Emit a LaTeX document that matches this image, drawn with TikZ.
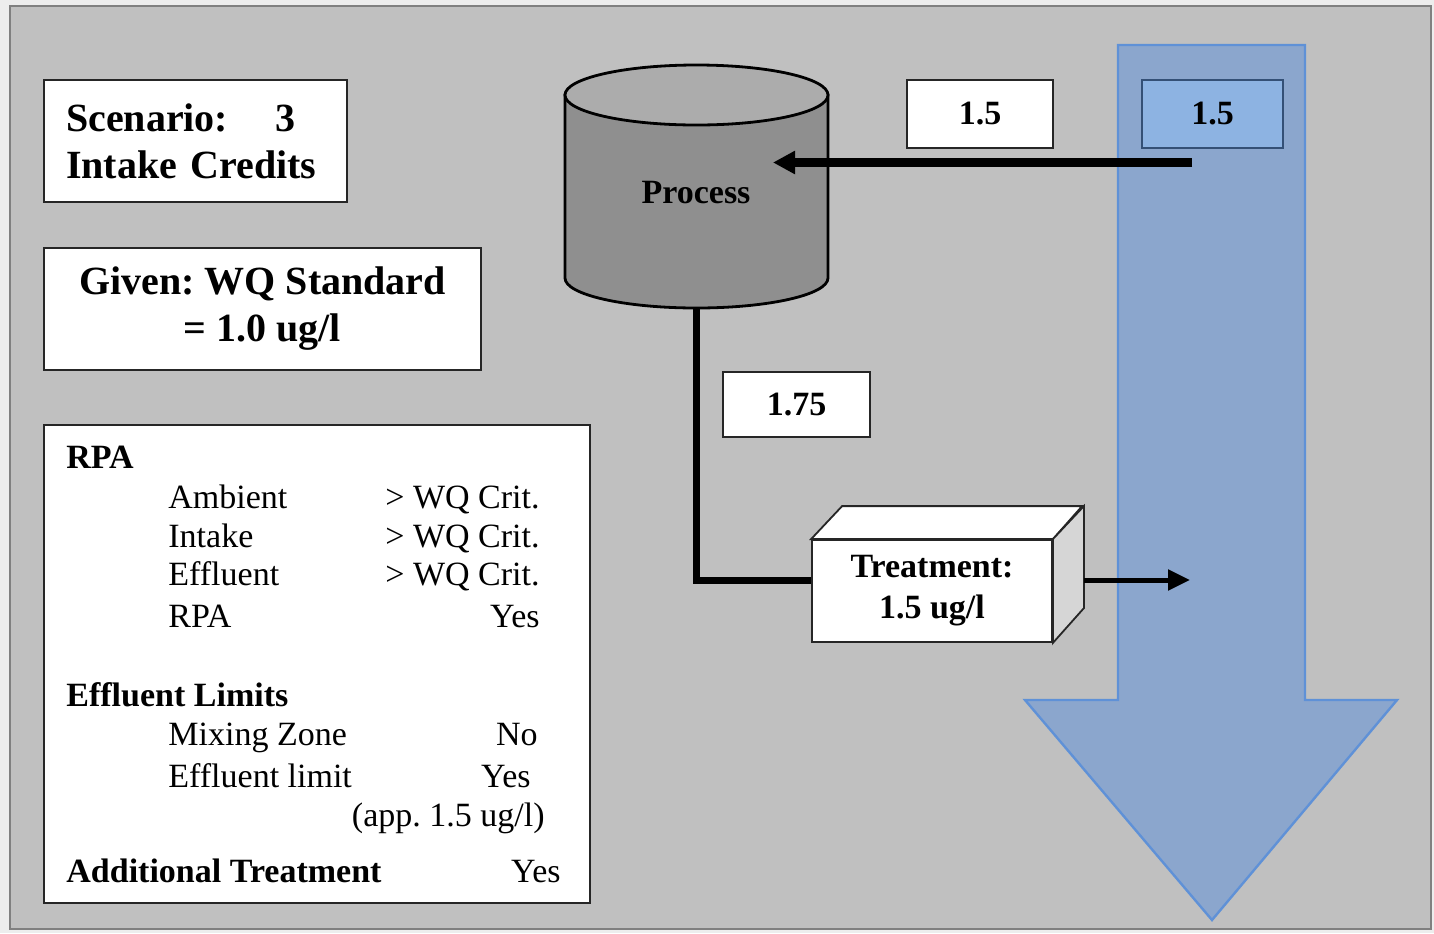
\documentclass[tikz,border=0pt]{standalone}
\usepackage{fontspec}
\setmainfont{Liberation Serif}
\usetikzlibrary{arrows.meta}

\definecolor{panel}{RGB}{192,192,192}
\definecolor{paneledge}{RGB}{128,128,128}
\definecolor{drum}{RGB}{143,143,143}
\definecolor{drumtop}{RGB}{172,172,172}
\definecolor{flow}{RGB}{139,166,205}
\definecolor{flowedge}{RGB}{95,145,215}
\definecolor{flowbox}{RGB}{141,179,226}
\definecolor{sideface}{RGB}{214,214,214}

\begin{document}
\frenchspacing
\begin{tikzpicture}[x=0.5pt,y=-0.5pt,
  box/.style={draw=black!85, line width=0.9pt, fill=white, inner sep=0pt},
  big/.style={font=\fontsize{20}{23.5}\selectfont\bfseries},
  val/.style={font=\fontsize{17}{20.5}\selectfont\bfseries},
  txt/.style={font=\fontsize{17}{20.5}\selectfont, inner sep=0pt},
  hdr/.style={font=\fontsize{17}{20.5}\selectfont\bfseries, inner sep=0pt},
  pipe/.style={line width=3.5pt},
]
\useasboundingbox (0,0) rectangle (1434,933);
\fill[black!7] (0,0) rectangle (1434,933);
\draw[fill=panel, draw=paneledge, line width=1pt] (10,6) rectangle (1431,929);

% receiving water: large downward arrow
\draw[fill=flow, draw=flowedge, line width=1.2pt, line join=miter]
  (1118,45) -- (1305,45) -- (1305,700) -- (1397,700) -- (1212,920)
  -- (1025,700) -- (1118,700) -- cycle;

% title and standard boxes
\node[box, big, minimum width=151.5pt, minimum height=61pt, align=left,
      text width=129.5pt] (scen) at (195.5,141)
  {Scenario:\hspace{23.5pt}3\\Intake Credits};
\node[box, big, minimum width=218.5pt, minimum height=61pt, align=center]
  (given) at (262.5,309) {Given: WQ Standard\\= 1.0 ug/l};

% reasonable potential analysis summary
\node[box, minimum width=273pt, minimum height=239pt] (rpa) at (317,664) {};
\node[hdr, anchor=base west] (rpa-h) at (66,468) {RPA};
\node[txt, anchor=base west] (amb) at (168,508) {Ambient};
\node[txt, anchor=base east] (amb-v) at (540,508) {> WQ Crit.};
\node[txt, anchor=base west] (int) at (168,547) {Intake};
\node[txt, anchor=base east] (int-v) at (540,547) {> WQ Crit.};
\node[txt, anchor=base west] (eff) at (168,585) {Effluent};
\node[txt, anchor=base east] (eff-v) at (540,585) {> WQ Crit.};
\node[txt, anchor=base west] (rp) at (168,627) {RPA};
\node[txt, anchor=base east] (rp-v) at (540,627) {Yes};
\node[hdr, anchor=base west] (lim-h) at (66,706) {Effluent Limits};
\node[txt, anchor=base west] (mz) at (168,745) {Mixing Zone};
\node[txt, anchor=base east] (mz-v) at (538,745) {No};
\node[txt, anchor=base west] (el) at (168,787) {Effluent limit};
\node[txt, anchor=base east] (el-v) at (531,787) {Yes};
\node[txt, anchor=base east] (el-n) at (545,826) {(app. 1.5 ug/l)};
\node[hdr, anchor=base west] (add-h) at (66,882) {Additional Treatment};
\node[txt, anchor=base east] (add-v) at (561,882) {Yes};

% process vessel
\draw[fill=drum, draw=black, line width=1.4pt] (565,95) -- (565,278)
  arc[start angle=180, end angle=360, x radius=65.75pt, y radius=15pt]
  -- (828,95) -- cycle;
\draw[fill=drumtop, draw=black, line width=1.4pt] (696.5,95)
  ellipse[x radius=65.75pt, y radius=15pt];
\node[val] (proc) at (696,193) {Process};
\coordinate (proc-in) at (773,162.5);
\coordinate (proc-out) at (696,307);

% concentration labels
\node[box, val, minimum width=73pt, minimum height=34pt] (c-out) at (980,114) {1.5};
\node[box, val, fill=flowbox, draw=flowedge!55!black, line width=0.7pt,
      minimum width=70.5pt, minimum height=34pt] (c-in) at (1212.5,114) {1.5};
\node[box, val, minimum width=73.5pt, minimum height=32.5pt] (c-eff) at (796.5,404.5) {1.75};

% treatment unit
\node[box, val, minimum width=120pt, minimum height=51pt, align=center]
  (treat) at (932,591) {Treatment:\\1.5 ug/l};
\draw[box] (treat.north west) -- ++(31,-33) -- ++(240,0) -- (treat.north east) -- cycle;
\draw[box, fill=sideface] (treat.north east) -- ++(31,-33) -- ++(0,102)
  -- (treat.south east) -- cycle;
\path (treat.west) ++(0,-11) coordinate (treat-in);
\path (treat.east) ++(31,-11) coordinate (treat-out);
\coordinate (intake) at (1192,162.5);
\coordinate (outfall) at (1190,580);

% flows
\draw[line width=4.5pt, -{Triangle[length=11pt,width=11pt]}] (intake) -- (proc-in);
\draw[pipe] (proc-out) |- (treat-in);
\draw[line width=2.5pt, -{Triangle[length=11pt,width=10pt]}] (treat-out) -- (outfall);
\end{tikzpicture}
\end{document}
